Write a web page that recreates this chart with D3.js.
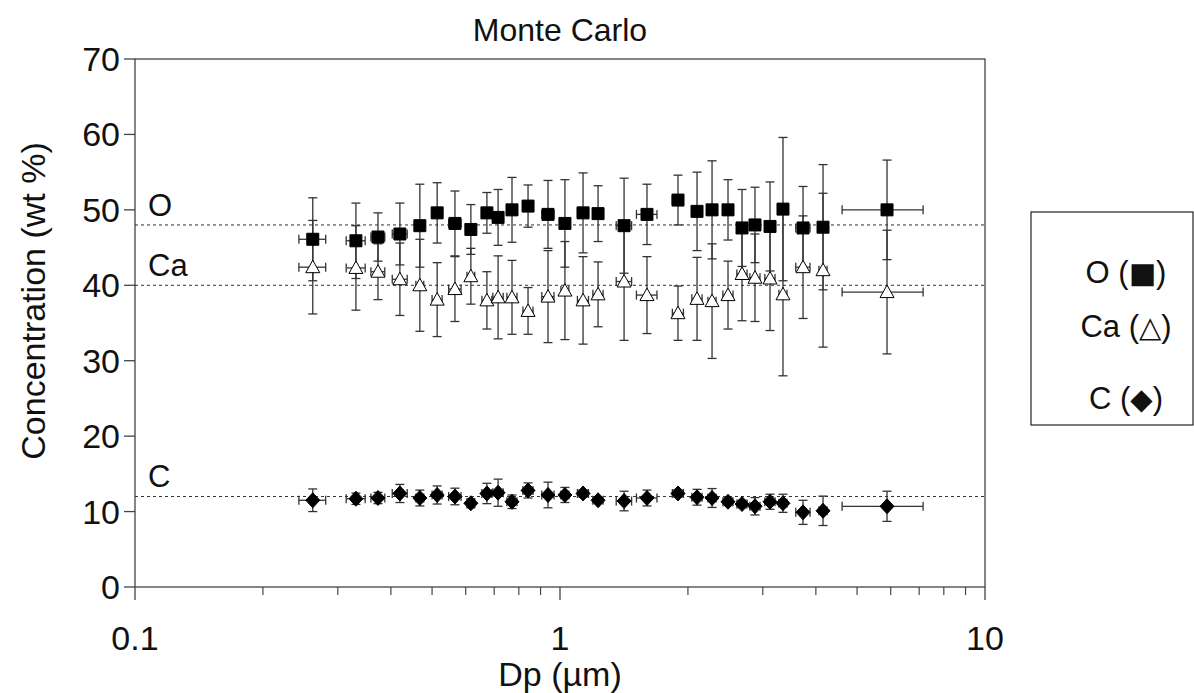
<!DOCTYPE html>
<html>
<head>
<meta charset="utf-8">
<script src="https://cdn.jsdelivr.net/npm/d3@7"></script>
<style>
  html, body { margin: 0; padding: 0; background: #fff; }
  svg { display: block; font-family: "Liberation Sans", Arial, sans-serif; }
</style>
</head>
<body>
<div id="chart"></div>
<script>
// particle diameter (µm) and its +/- error
var dp = [0.262, 0.331, 0.373, 0.420, 0.468, 0.514, 0.566, 0.617, 0.673, 0.715,
          0.771, 0.841, 0.937, 1.027, 1.133, 1.229, 1.415, 1.602, 1.895, 2.101,
          2.279, 2.485, 2.681, 2.876, 3.120, 3.347, 3.731, 4.158, 5.881];
var dpErr = [0.019, 0.017, 0.014, 0.017, 0.010, 0.014, 0.019, 0.013, 0.018, 0.020,
             0.021, 0.023, 0.031, 0.022, 0.034, 0.034, 0.059, 0.089, 0.057, 0.058,
             0.050, 0.068, 0.074, 0.079, 0.086, 0.073, 0.144, 0.091, 1.27];

// concentrations (wt %) with their errors
var oVal = [46.1, 45.9, 46.4, 46.8, 47.9, 49.6, 48.2, 47.4, 49.6, 49.0,
            50.0, 50.5, 49.4, 48.2, 49.6, 49.5, 47.9, 49.4, 51.3, 49.8,
            50.0, 50.0, 47.6, 48.0, 47.8, 50.1, 47.6, 47.7, 50.0];
var oErr = [5.5, 5.0, 3.2, 4.1, 5.5, 4.0, 4.3, 3.3, 2.7, 3.7,
            4.3, 2.8, 4.5, 5.8, 5.3, 3.7, 6.3, 4.0, 3.3, 5.2,
            6.5, 4.0, 5.1, 5.0, 5.9, 9.5, 5.5, 8.3, 6.6];
var caVal = [42.4, 42.3, 41.8, 40.8, 40.0, 38.1, 39.5, 41.2, 38.0, 38.4,
             38.4, 36.6, 38.5, 39.3, 38.0, 38.8, 40.5, 38.7, 36.3, 38.2,
             37.9, 38.7, 41.5, 41.0, 40.9, 38.8, 42.4, 42.0, 39.1];
var caErr = [6.2, 5.6, 3.7, 4.8, 6.1, 4.9, 4.3, 3.7, 3.8, 5.5,
             4.9, 3.1, 6.1, 6.5, 5.8, 4.3, 7.8, 5.1, 3.6, 5.5,
             7.6, 4.5, 6.2, 5.8, 6.9, 10.8, 6.8, 10.2, 8.2];
var cVal = [11.5, 11.7, 11.8, 12.4, 11.8, 12.2, 12.0, 11.1, 12.4, 12.5,
            11.3, 12.8, 12.2, 12.2, 12.4, 11.5, 11.4, 11.8, 12.4, 11.9,
            11.8, 11.3, 11.0, 10.7, 11.3, 11.1, 9.9, 10.1, 10.7];
var cErr = [1.5, 0.75, 0.75, 1.2, 1.05, 1.2, 1.1, 0.6, 1.35, 1.8,
            0.9, 1.0, 1.7, 1.0, 0.5, 0.4, 1.3, 1.05, 0.5, 1.05,
            1.25, 0.5, 0.5, 1.15, 1.0, 1.2, 1.6, 1.95, 2.0];

// nominal composition lines
var refVal = [48, 40, 12];
var refLabel = ['O', 'Ca', 'C'];

var yTicks = [0, 10, 20, 30, 40, 50, 60, 70];
var xMajor = [0.1, 1, 10];
var xMinor = [0.2, 0.3, 0.4, 0.5, 0.6, 0.7, 0.8, 0.9, 2, 3, 4, 5, 6, 7, 8, 9];

var legendName = ['O', 'Ca', 'C'];
var legendSymbol = ['\u25A0', '\u25B3', '\u25C6'];

var width = 1194, height = 693,
    pLeft = 135, pRight = 985, pTop = 59, pBottom = 587,
    axisColor = '#444', barColor = '#333';

var x = d3.scaleLog().domain([0.1, 10]).range([pLeft, pRight]);
var y = d3.scaleLinear().domain([0, 70]).range([pBottom, pTop]);

var svg = d3.select('#chart')
    .append('svg')
    .attr('width', width)
    .attr('height', height);

// plot frame
svg.append('rect')
    .attr('x', pLeft)
    .attr('y', pTop)
    .attr('width', pRight - pLeft)
    .attr('height', pBottom - pTop)
    .attr('fill', 'none')
    .attr('stroke', axisColor)
    .attr('stroke-width', 1.3);

// y axis ticks + labels
var gy = svg.append('g');
gy.selectAll('line')
    .data(yTicks)
    .enter()
    .append('line')
    .attr('x1', pLeft - 11)
    .attr('x2', pLeft)
    .attr('y1', d => y(d))
    .attr('y2', d => y(d))
    .attr('stroke', axisColor)
    .attr('stroke-width', 1.3);
gy.selectAll('text')
    .data(yTicks)
    .enter()
    .append('text')
    .text(d => d)
    .attr('x', pLeft - 15)
    .attr('y', d => y(d) + 12)
    .attr('text-anchor', 'end')
    .attr('font-size', '34px')
    .attr('fill', '#111');

// x axis ticks + labels
var gx = svg.append('g');
gx.selectAll('line.major')
    .data(xMajor)
    .enter()
    .append('line')
    .attr('class', 'major')
    .attr('x1', d => x(d))
    .attr('x2', d => x(d))
    .attr('y1', pBottom)
    .attr('y2', pBottom + 13)
    .attr('stroke', axisColor)
    .attr('stroke-width', 1.3);
gx.selectAll('line.minor')
    .data(xMinor)
    .enter()
    .append('line')
    .attr('class', 'minor')
    .attr('x1', d => x(d))
    .attr('x2', d => x(d))
    .attr('y1', pBottom)
    .attr('y2', pBottom + 8)
    .attr('stroke', axisColor)
    .attr('stroke-width', 1.2);
gx.selectAll('text')
    .data(xMajor)
    .enter()
    .append('text')
    .text(d => d)
    .attr('x', d => x(d))
    .attr('y', pBottom + 63)
    .attr('text-anchor', 'middle')
    .attr('font-size', '34px')
    .attr('fill', '#111');

// titles
svg.append('text')
    .text('Monte Carlo')
    .attr('x', x(1))
    .attr('y', 41)
    .attr('text-anchor', 'middle')
    .attr('font-size', '32px')
    .attr('fill', '#111');

svg.append('text')
    .text('Dp (\u00B5m)')
    .attr('x', x(1))
    .attr('y', 686)
    .attr('text-anchor', 'middle')
    .attr('font-size', '34px')
    .attr('fill', '#111');

svg.append('text')
    .text('Concentration (wt %)')
    .attr('transform', 'translate(45,301) rotate(-90)')
    .attr('text-anchor', 'middle')
    .attr('font-size', '34px')
    .attr('fill', '#111');

// reference lines
var gr = svg.append('g');
gr.selectAll('line')
    .data(refVal)
    .enter()
    .append('line')
    .attr('x1', pLeft)
    .attr('x2', pRight)
    .attr('y1', d => y(d))
    .attr('y2', d => y(d))
    .attr('stroke', '#333')
    .attr('stroke-width', 1)
    .attr('stroke-dasharray', '3,3');
gr.selectAll('text')
    .data(refVal)
    .enter()
    .append('text')
    .text((d, i) => refLabel[i])
    .attr('x', pLeft + 13)
    .attr('y', d => y(d) - 9)
    .attr('font-size', '31px')
    .attr('fill', '#111');

// error bars for one series
function errorBars(vals, errs){
    var g = svg.append('g')
        .attr('stroke', barColor)
        .attr('stroke-width', 1.3)
        .attr('fill', 'none');
    var cap = 4.5;
    dp.forEach(function(d, i){
        var cx = x(d), cy = y(vals[i]),
            y0 = y(vals[i] - errs[i]), y1 = y(vals[i] + errs[i]),
            x0 = x(d - dpErr[i]), x1 = x(d + dpErr[i]);
        g.append('line').attr('x1', cx).attr('x2', cx).attr('y1', y0).attr('y2', y1);
        g.append('line').attr('x1', cx - cap).attr('x2', cx + cap).attr('y1', y0).attr('y2', y0);
        g.append('line').attr('x1', cx - cap).attr('x2', cx + cap).attr('y1', y1).attr('y2', y1);
        g.append('line').attr('x1', x0).attr('x2', x1).attr('y1', cy).attr('y2', cy);
        g.append('line').attr('x1', x0).attr('x2', x0).attr('y1', cy - cap).attr('y2', cy + cap);
        g.append('line').attr('x1', x1).attr('x2', x1).attr('y1', cy - cap).attr('y2', cy + cap);
    });
}

errorBars(caVal, caErr);
errorBars(oVal, oErr);
errorBars(cVal, cErr);

// markers
var squarePath = 'M-6,-6H6V6H-6Z',
    trianglePath = 'M0,-7L7,5.5H-7Z',
    diamondPath = 'M0,-7.5L7,0L0,7.5L-7,0Z';

function markers(vals, path, fill){
    svg.append('g')
        .selectAll('path')
        .data(vals)
        .enter()
        .append('path')
        .attr('d', path)
        .attr('transform', (d, i) => 'translate(' + x(dp[i]) + ',' + y(d) + ')')
        .attr('fill', fill)
        .attr('stroke', '#000')
        .attr('stroke-width', 1);
}

markers(caVal, trianglePath, '#fff');
markers(oVal, squarePath, '#000');
markers(cVal, diamondPath, '#000');

// legend box
var lg = svg.append('g');
lg.append('rect')
    .attr('x', 1031)
    .attr('y', 212)
    .attr('width', 162)
    .attr('height', 213)
    .attr('fill', '#fff')
    .attr('stroke', '#222')
    .attr('stroke-width', 1.2);
var rows = [283, 337, 409];
var lt = lg.selectAll('text')
    .data(legendName)
    .enter()
    .append('text')
    .attr('x', 1126)
    .attr('y', (d, i) => rows[i])
    .attr('text-anchor', 'middle')
    .attr('font-size', '31px')
    .attr('fill', '#111');
lt.append('tspan').text(d => d + ' (');
lt.append('tspan')
    .attr('font-size', '29px')
    .attr('font-family', '"DejaVu Sans", sans-serif')
    .text((d, i) => legendSymbol[i]);
lt.append('tspan').text(')');
</script>
</body>
</html>
